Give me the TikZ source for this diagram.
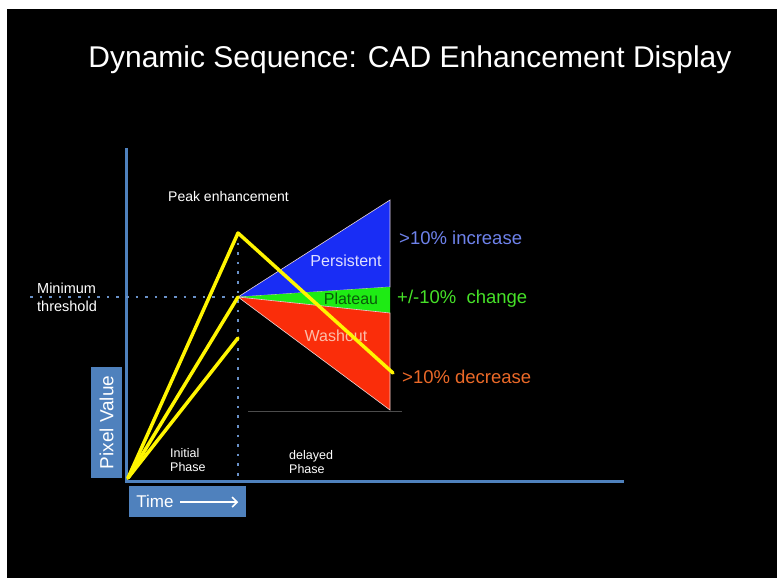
\documentclass[tikz,border=0pt]{standalone}
\usepackage{fontspec}
\setmainfont{Liberation Sans}
\usetikzlibrary{arrows.meta}
\definecolor{AxisBlue}{RGB}{79,129,189}
\definecolor{DotBlue}{RGB}{105,145,200}
\definecolor{PeakYellow}{RGB}{255,245,0}
\definecolor{PersistBlue}{RGB}{25,45,245}
\definecolor{PlateauGreen}{RGB}{30,235,20}
\definecolor{WashRed}{RGB}{250,45,10}
\definecolor{IncBlue}{RGB}{110,130,235}
\definecolor{ChgGreen}{RGB}{70,225,40}
\definecolor{DecOrange}{RGB}{235,105,40}
\definecolor{PlateauText}{RGB}{10,90,10}
\definecolor{WashText}{RGB}{250,190,170}
\definecolor{EdgeWhite}{RGB}{235,215,215}

\begin{document}
\begin{tikzpicture}[x=1pt,y=-1pt,
    lbl/.style={text=white,inner sep=0pt},
    tag/.style={inner sep=0pt,anchor=west,font=\fontsize{18.5}{20}\selectfont},
    wedge/.style={draw=EdgeWhite,line width=0.6pt},
    curve/.style={PeakYellow,line width=3.5pt,line join=round,line cap=round},
    guide/.style={DotBlue,line width=2.6pt,dash pattern=on 2.6pt off 7pt},
    axisbox/.style={fill=AxisBlue,text=white,inner sep=0pt}]
  \useasboundingbox (0,0) rectangle (777,578);
  \fill[white] (0,0) rectangle (777,578);
  \fill[black] (7,9) rectangle (777,578);

  % title
  \node[lbl,font=\fontsize{30}{32}\selectfont] (title) at (410,60)
    {Dynamic Sequence: CAD Enhancement Display};

  % curve points
  \coordinate (O) at (128,478);
  \coordinate (P) at (238,233);
  \coordinate (T) at (238,297);
  \coordinate (L) at (238,338);
  \coordinate (E) at (393,373);
  \coordinate (w1) at (390,200);
  \coordinate (w2) at (390,287);
  \coordinate (w3) at (390,313);
  \coordinate (w4) at (390,410);

  % axes and guides
  \draw[AxisBlue,line width=3pt] (126,148) -- (126,481) -- (624,481);
  \draw[guide] (P) -- (238,476);
  \draw[guide] (30,297) -- (T);

  % wedges
  \filldraw[wedge,fill=PersistBlue] (T) -- (w1) -- (w2) -- cycle;
  \fill[PlateauGreen] (T) -- (w2) -- (w3) -- cycle;
  \filldraw[wedge,fill=WashRed] (T) -- (w3) -- (w4) -- cycle;
  \draw[gray!60!black,line width=1pt] (248,411) -- (402,411);

  \node[inner sep=0pt,text=white!88!blue,font=\fontsize{16}{18}\selectfont] (pers) at (346,261) {Persistent};
  \node[inner sep=0pt,text=PlateauText,font=\fontsize{16}{18}\selectfont] (plat) at (351,299) {Plateau};
  \node[inner sep=0pt,text=WashText,font=\fontsize{16}{18}\selectfont] (wash) at (336,336) {Washout};

  % enhancement curves
  \draw[curve] (O) -- (P) -- (E);
  \draw[curve] (O) -- (T);
  \draw[curve] (O) -- (L);

  % labels
  \node[lbl,font=\fontsize{14}{15}\selectfont,anchor=west] (peak) at (168,196) {Peak enhancement};
  \node[lbl,font=\fontsize{14.5}{18}\selectfont,align=left,anchor=west] (thr) at (37,297)
    {Minimum\\threshold};
  \node[lbl,font=\fontsize{12.5}{14}\selectfont,align=left,anchor=west] (init) at (170,460)
    {Initial\\Phase};
  \node[lbl,font=\fontsize{12.5}{14}\selectfont,align=left,anchor=west] (delay) at (289,462)
    {delayed\\Phase};
  \node[tag,text=IncBlue] (inc) at (399,238) {>10\% increase};
  \node[tag,text=ChgGreen] (chg) at (397,299) {+/-10\%\ \ change};
  \node[tag,text=DecOrange] (dec) at (402,377) {>10\% decrease};

  % axis boxes
  \node[axisbox,rotate=90,minimum width=111pt,minimum height=31pt,
    font=\fontsize{19}{20}\selectfont] (pv) at (106.5,422.5) {Pixel Value};
  \node[axisbox,anchor=west,minimum width=117pt,minimum height=31pt,
    font=\fontsize{17}{18}\selectfont] (time) at (129,501.5)
    {Time\hspace{6pt}\tikz[baseline=-0.6ex]\draw[white,line width=1.6pt,-{Straight Barb[length=5pt]}] (0pt,0pt) -- (58pt,0pt);};
\end{tikzpicture}
\end{document}
